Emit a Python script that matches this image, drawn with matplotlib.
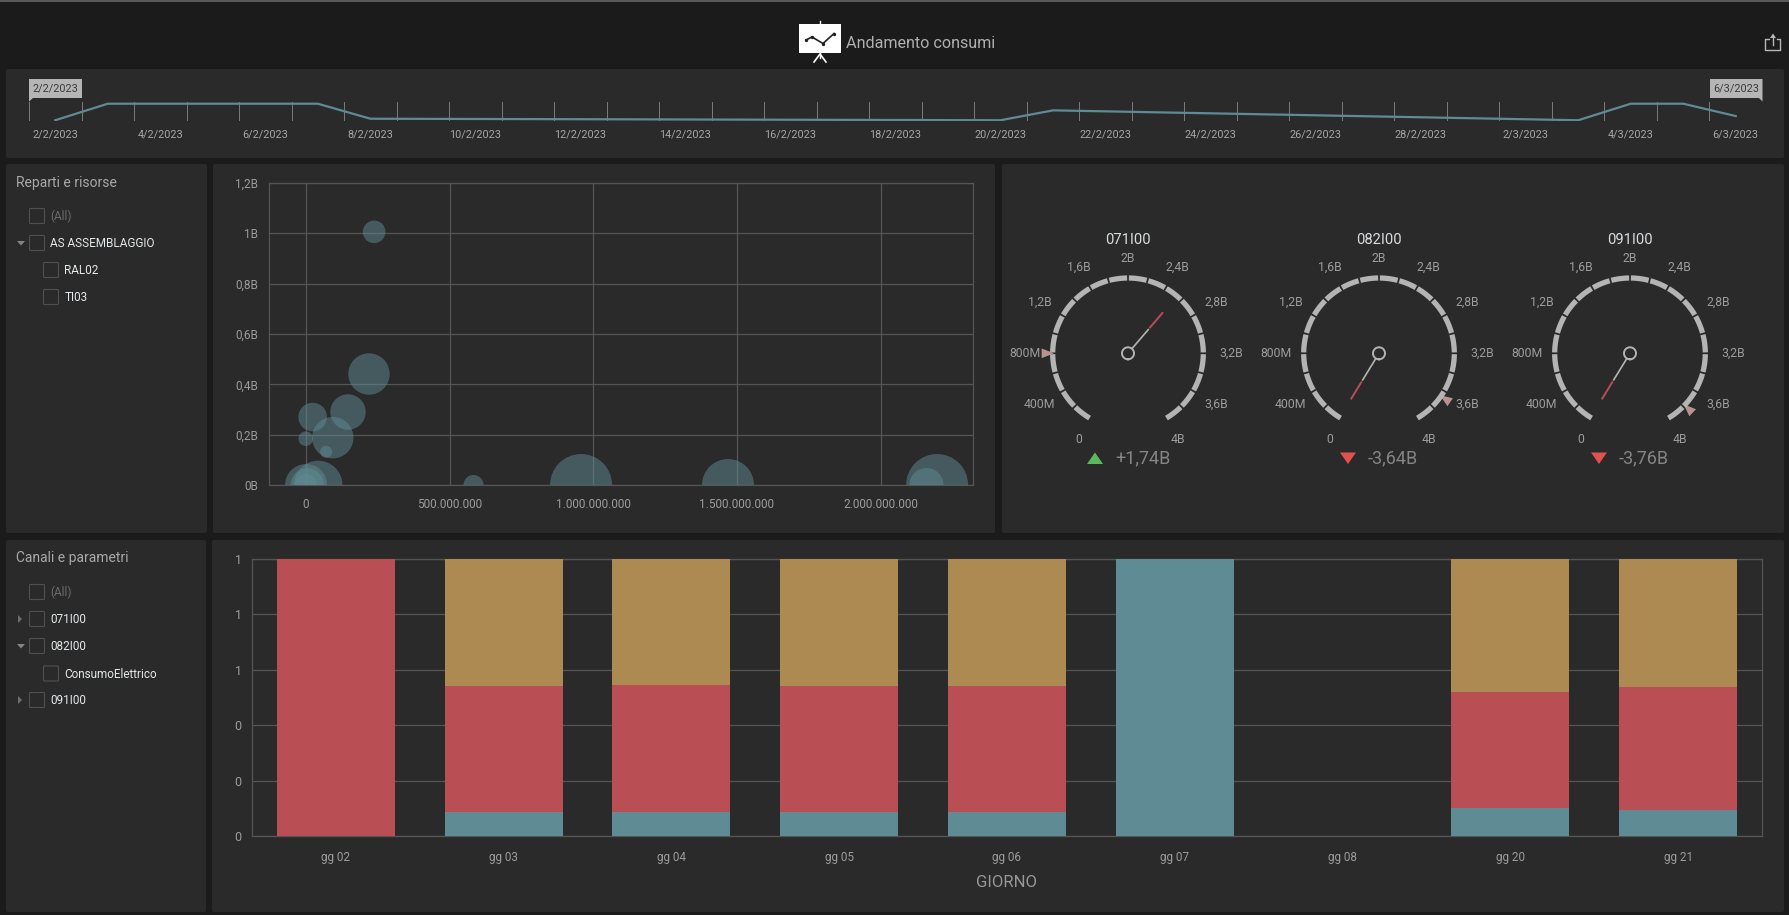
import numpy as np
import pandas as pd
import matplotlib
matplotlib.use("Agg")
import matplotlib.pyplot as plt
import matplotlib.dates as mdates
from matplotlib.patches import FancyBboxPatch, Rectangle

plt.rcParams['font.family'] = ['Roboto', 'DejaVu Sans']

# --- data ---
range_dates = ['2023-02-02', '2023-02-03', '2023-02-07', '2023-02-08', '2023-02-20',
               '2023-02-21', '2023-03-03', '2023-03-04', '2023-03-05', '2023-03-06']
range_values = [0.04, 0.91, 0.91, 0.12, 0.04, 0.56, 0.04, 0.91, 0.91, 0.26]
range_labels = ['2/2/2023', '4/2/2023', '6/2/2023', '8/2/2023', '10/2/2023', '12/2/2023',
                '14/2/2023', '16/2/2023', '18/2/2023', '20/2/2023', '22/2/2023', '24/2/2023',
                '26/2/2023', '28/2/2023', '2/3/2023', '4/3/2023', '6/3/2023']

# bubble x, y (billions on y) and radius
bubble_x = [237, 219, 146, 23, 93, -1, 70, 42, 0, 4.5, 0, 583, 957.5, 1469, 2197, 2160]
bubble_y = [1.006, 0.441, 0.29, 0.27, 0.188, 0.184, 0.132, 0, 0, 0, 0, 0, 0, 0, 0, 0]
bubble_r = [11.3, 20.7, 17.7, 14.3, 20.7, 7.3, 6, 24.3, 21, 16.7, 11, 10, 31, 26, 31, 17]
scatter_xticks = [0, 500, 1000, 1500, 2000]
scatter_xlabels = ['0', '500.000.000', '1.000.000.000', '1.500.000.000', '2.000.000.000']
scatter_yticks = [0, 0.2, 0.4, 0.6, 0.8, 1, 1.2]
scatter_ylabels = ['0B', '0,2B', '0,4B', '0,6B', '0,8B', '1B', '1,2B']

gauge_names = ['071I00', '082I00', '091I00']
gauge_values = [2.54, 0.02, 0.02]
gauge_targets = [0.8, 3.66, 3.78]
gauge_deltas = ['+1,74B', '-3,64B', '-3,76B']
gauge_scale = [0, 0.4, 0.8, 1.2, 1.6, 2, 2.4, 2.8, 3.2, 3.6, 4]
gauge_scale_labels = ['0', '400M', '800M', '1,2B', '1,6B', '2B', '2,4B', '2,8B', '3,2B', '3,6B', '4B']

days = ['gg 02', 'gg 03', 'gg 04', 'gg 05', 'gg 06', 'gg 07', 'gg 08', 'gg 20', 'gg 21']
teal_part = [0, 0.087, 0.087, 0.087, 0.087, 1, 0, 0.102, 0.095]
red_part = [1, 0.455, 0.458, 0.455, 0.455, 0, 0, 0.418, 0.443]
tan_part = [0, 0.458, 0.455, 0.458, 0.458, 0, 0, 0.480, 0.462]

# --- colours ---
BG = '#1b1b1b'
PANEL = '#2a2a2a'
GRID = '#555555'
TICK = '#9c9c9c'
TEAL = '#5f8b94'
RED = '#b94e54'
TAN = '#ae8a53'
ARC = '#b4b4b4'

W, H = 1790, 915
fig = plt.figure(figsize=(W / 100, H / 100), dpi=100, facecolor=BG)


# axes from pixel edges (y measured from the top)
def ax_px(left, top, right, bottom, **kw):
    return fig.add_axes([left / W, 1 - bottom / H, (right - left) / W, (bottom - top) / H], **kw)


# background layer in pixel coordinates: panels, filter lists, title
bg = ax_px(0, 0, W, H)
bg.set_xlim(0, W)
bg.set_ylim(H, 0)
bg.axis('off')

bg.add_patch(Rectangle((0, 0), W, 2, color='#5a5a5a', lw=0))
panels = [(6, 69, 1784, 158), (6, 164, 207, 533), (213, 164, 995, 533), (1002, 164, 1784, 533),
          (6, 540, 206, 912), (212, 540, 1784, 912)]
for x0, y0, x1, y1 in panels:
    bg.add_patch(FancyBboxPatch((x0, y0), x1 - x0, y1 - y0, boxstyle='round,pad=0,rounding_size=2',
                                fc=PANEL, ec='none'))


def filter_row(label, y, indent=False, muted=False, arrow=None):
    x = 43.5 if indent else 29.5
    bg.add_patch(FancyBboxPatch((x, y - 7.5), 15, 15, boxstyle='round,pad=0,rounding_size=1',
                                fc='none', ec='#505050', lw=0.8))
    bg.text(x + 21, y + 0.8, label, color='#6a6a6a' if muted else '#e4e8ea', fontsize=8.5, va='center')
    if arrow == 'down':
        bg.fill([17, 25, 21], [y - 2, y - 2, y + 2.5], color='#858585', lw=0)
    if arrow == 'right':
        bg.fill([18, 22, 18], [y - 4, y, y + 4], color='#6e6e6e', lw=0)


bg.text(16, 182.5, 'Reparti e risorse', color='#a8a8a8', fontsize=10, va='center')
filter_row('(All)', 216, muted=True)
filter_row('AS ASSEMBLAGGIO', 243, arrow='down')
filter_row('RAL02', 270, indent=True)
filter_row('TI03', 297, indent=True)

bg.text(16, 558, 'Canali e parametri', color='#a8a8a8', fontsize=10, va='center')
filter_row('(All)', 592, muted=True)
filter_row('071I00', 619, arrow='right')
filter_row('082I00', 646, arrow='down')
filter_row('ConsumoElettrico', 673.5, indent=True)
filter_row('091I00', 700, arrow='right')

# dashboard title with its icon
bg.add_patch(Rectangle((799, 24), 42, 29, color='white', lw=0))
bg.plot([820, 820], [21, 24], color='white', lw=1)
bg.plot([814, 820, 826], [62, 54, 62], color='white', lw=1.2)
bg.plot([820, 820], [53, 58], color='white', lw=1)
bg.plot([806, 812, 823, 834], [40, 37, 43.5, 33.5], color='#222222', lw=1.2, marker='o', ms=1.4)
bg.text(846.5, 43.5, 'Andamento consumi', color='#b0b0b0', fontsize=11.6, va='center')

# share icon
bg.plot([1769, 1765.5, 1765.5, 1780.5, 1780.5, 1777], [39, 39, 50, 50, 39, 39], color='#b8b8b8', lw=1)
bg.plot([1773, 1773], [36, 45], color='#b8b8b8', lw=1)
bg.fill([1770, 1776, 1773], [38, 38, 33.5], color='#b8b8b8', lw=0)

# --- range selector ---
rng = ax_px(29, 102, 1762, 121, facecolor='none')
dates = pd.to_datetime(range_dates)
rng.plot(dates, range_values, color=TEAL, lw=1.6, zorder=3)
half_day = pd.Timedelta(hours=12)
start, end = pd.Timestamp('2023-02-02'), pd.Timestamp('2023-03-06')
rng.set_xlim(start - half_day, end + half_day)
rng.set_ylim(0, 1)
label_dates = [start + pd.Timedelta(days=2 * i) for i in range(len(range_labels))]
rng.set_xticks(mdates.date2num(label_dates))
rng.set_xticklabels(range_labels, color='#a6a6a6', fontsize=7.8)
minor_dates = [start - half_day + pd.Timedelta(days=i) for i in range(34)]
rng.set_xticks(mdates.date2num(minor_dates), minor=True)
rng.set_yticks([])
rng.tick_params(axis='x', which='major', length=0, pad=6)
rng.tick_params(axis='x', which='minor', length=0)
rng.grid(axis='x', which='minor', color='#7c7c7c', lw=0.7)
rng.grid(axis='x', which='major', visible=False)
rng.set_axisbelow(False)
for s in rng.spines.values():
    s.set_visible(False)

# date flags above the selector
bg.fill([29, 82, 82, 33, 29], [79, 79, 98, 98, 101.5], color='#b5b5b5', lw=0)
bg.text(55.5, 89, '2/2/2023', color='#3c3c3c', fontsize=7.8, ha='center', va='center')
bg.fill([1710, 1762.5, 1762.5, 1759, 1710], [79, 79, 101.5, 98, 98], color='#b5b5b5', lw=0)
bg.text(1736, 89, '6/3/2023', color='#3c3c3c', fontsize=7.8, ha='center', va='center')

# --- bubble chart ---
sc = ax_px(269, 183, 973, 485, facecolor='none')
sizes = [(2 * r * 0.72) ** 2 for r in bubble_r]
sc.scatter(bubble_x, bubble_y, s=sizes, color=TEAL, alpha=0.5, linewidths=0, zorder=3)
sc.set_xlim(-129, 2322)
sc.set_ylim(0, 1.2)
sc.set_xticks(scatter_xticks)
sc.set_xticklabels(scatter_xlabels)
sc.set_yticks(scatter_yticks)
sc.set_yticklabels(scatter_ylabels)
sc.grid(color=GRID, lw=0.9)
sc.set_axisbelow(True)
sc.tick_params(axis='x', length=0, pad=9.5, colors=TICK, labelsize=8.5)
sc.tick_params(axis='y', length=0, pad=8, colors=TICK, labelsize=8.5)
for s in sc.spines.values():
    s.set_color(GRID)
    s.set_linewidth(0.9)


# --- gauges ---
def to_angle(v):
    return np.radians((v - 2) / 2 * 150)


gauge_centers = [1128, 1379, 1630]
for i, cx in enumerate(gauge_centers):
    cy = 353.3
    g = ax_px(cx - 100, cy - 100, cx + 100, cy + 100, projection='polar', facecolor='none')
    g.set_theta_zero_location('N')
    g.set_theta_direction(-1)
    g.set_rlim(0, 100)
    g.axis('off')

    # scale arc, one piece between every pair of ticks
    steps = np.arange(0, 4, 0.2)
    for v in steps:
        th = np.linspace(to_angle(v + 0.009), to_angle(v + 0.191), 12)
        g.plot(th, np.full_like(th, 75.3), color=ARC, lw=3.8, solid_capstyle='butt')

    for v, lab in zip(gauge_scale, gauge_scale_labels):
        t = to_angle(v)
        g.text(t, 95 + 8 * abs(np.sin(t)), lab, color=TICK, fontsize=8.8, ha='center', va='center')

    # needle: grey part, then red part
    t = to_angle(gauge_values[i])
    g.plot([t, t], [6.5, 32], color=ARC, lw=1.2, solid_capstyle='butt')
    g.plot([t, t], [33, 54], color=RED, lw=1.4, solid_capstyle='butt')
    hub = np.linspace(0, 2 * np.pi, 60)
    hub_x = 6 * np.sin(hub)
    hub_y = 6 * np.cos(hub)
    bg.plot(cx + hub_x, cy + hub_y, color=ARC, lw=1.4, zorder=5)

    # target marker
    t = to_angle(gauge_targets[i])
    g.fill([t, t - np.radians(3.2), t + np.radians(3.2)], [74, 86.5, 86.5], color='#b89292', lw=0)

    bg.text(cx, 240.5, gauge_names[i], color='#d8dcdf', fontsize=10.6, ha='center', va='center')
    if gauge_deltas[i].startswith('+'):
        bg.fill([cx - 41, cx - 25, cx - 33], [464, 464, 452.5], color='#5cb85c', lw=0)
        tx = cx - 13
    else:
        bg.fill([cx - 39, cx - 23, cx - 31], [452.5, 452.5, 464], color='#e0524f', lw=0)
        tx = cx - 11.5
    bg.text(tx, 458, gauge_deltas[i], color='#858585', fontsize=13, va='center')

# --- stacked bars ---
br = ax_px(252, 559, 1762, 836, facecolor='none')
x = np.arange(len(days))
teal = np.array(teal_part)
red = np.array(red_part)
tan = np.array(tan_part)
br.bar(x, teal, width=0.703, color=TEAL, zorder=3)
br.bar(x, red, width=0.703, bottom=teal, color=RED, zorder=3)
br.bar(x, tan, width=0.703, bottom=teal + red, color=TAN, zorder=3)
br.set_xlim(-0.5, len(days) - 0.5)
br.set_ylim(0, 1)
br.set_xticks(x)
br.set_xticklabels(days)
yt = [0, 0.2, 0.4, 0.6, 0.8, 1]
br.set_yticks(yt)
br.set_yticklabels([f'{v:.0f}' for v in yt])
br.grid(axis='y', color=GRID, lw=0.9)
br.set_axisbelow(True)
br.tick_params(axis='x', length=0, pad=10.5, colors=TICK, labelsize=8.5)
br.tick_params(axis='y', length=0, pad=7.5, colors=TICK, labelsize=9)
for s in br.spines.values():
    s.set_color(GRID)
    s.set_linewidth(0.9)
br.set_xlabel('GIORNO', color='#989898', fontsize=12, labelpad=8)

fig.savefig('out.png', dpi=100, facecolor=BG)
